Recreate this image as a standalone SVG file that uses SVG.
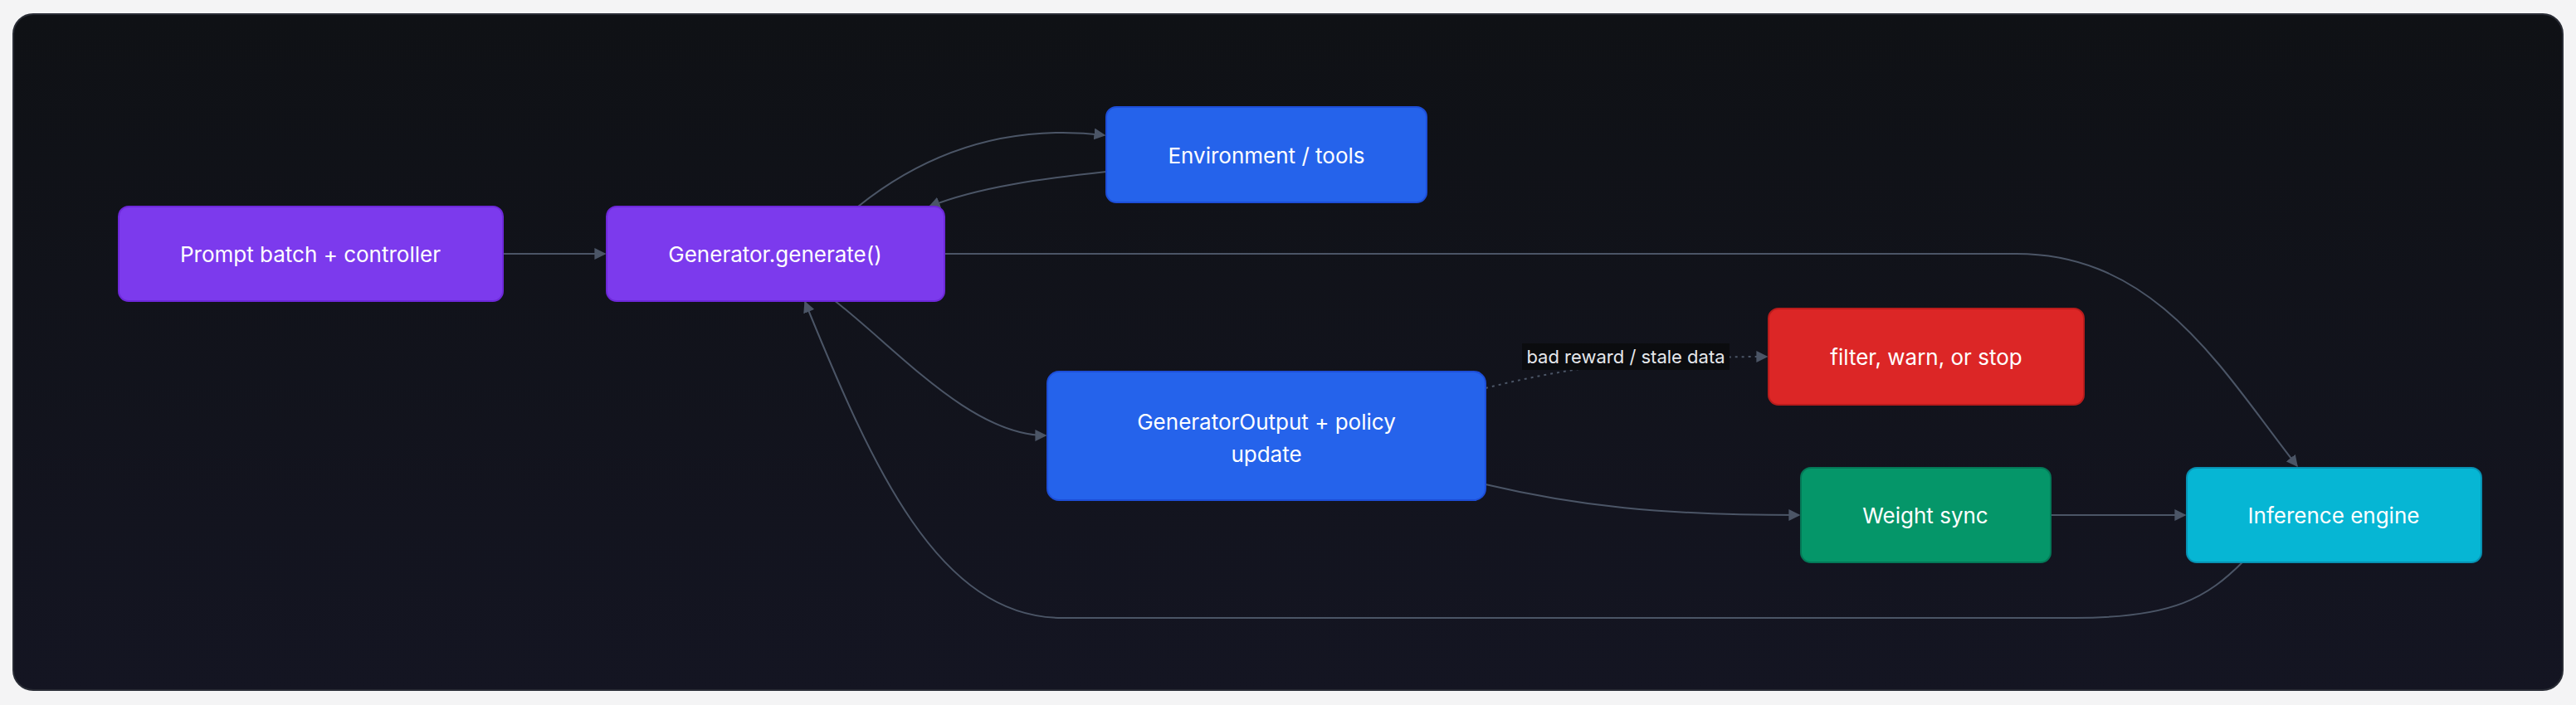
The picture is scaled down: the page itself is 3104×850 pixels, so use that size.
<svg xmlns="http://www.w3.org/2000/svg" width="3104" height="850" viewBox="0 0 3104 850">
<defs>
<linearGradient id="bg" x1="0" y1="0" x2="0" y2="1"><stop offset="0" stop-color="#0f1115"/><stop offset="1" stop-color="#141522"/></linearGradient>
<marker id="ah" viewBox="0 0 10 10" refX="9" refY="5" markerWidth="14" markerHeight="14" markerUnits="userSpaceOnUse" orient="auto"><path d="M0,0 L10,5 L0,10 z" fill="#4b5566"/></marker>
<style>
.n text{font-family:Inter,"Liberation Sans",sans-serif;font-size:26px;fill:#fff;text-anchor:middle;dominant-baseline:central}
.e path{fill:none;stroke:#4b5566;stroke-width:2}
.lbl{font-family:Inter,"Liberation Sans",sans-serif;font-size:22px;fill:#e5e7eb;text-anchor:middle;dominant-baseline:central}
</style>
</defs>
<rect x="0" y="0" width="3104" height="850" fill="#f4f4f5"/>
<rect x="16" y="17" width="3072" height="815" rx="24" fill="url(#bg)" stroke="#2a2d36" stroke-width="2"/>
<g class="e">
<path d="M606,306 L729,306" marker-end="url(#ah)"/>
<path d="M1034,249 C1120,180 1220,150 1331,163" marker-end="url(#ah)"/>
<path d="M1333,207 C1260,215 1180,225 1120,249" marker-end="url(#ah)"/>
<path d="M1138,306 L2430,306 C2600,306 2680,450 2768,562" marker-end="url(#ah)"/>
<path d="M1005,362 C1080,420 1170,525 1260,525" marker-end="url(#ah)"/>
<path d="M1790,468 C1900,440 2000,430 2129,430" stroke-dasharray="3,5" marker-end="url(#ah)"/>
<path d="M1790,584 C1900,610 2000,621 2168,621" marker-end="url(#ah)"/>
<path d="M2471,621 L2633,621" marker-end="url(#ah)"/>
<path d="M2703,677 C2660,720 2620,745 2500,745 L1280,745 C1130,745 1050,560 970,364" marker-end="url(#ah)"/>
</g>
<rect x="1834" y="414" width="250" height="32" fill="#0b0c0f"/>
<text class="lbl" x="1959" y="430">bad reward / stale data</text>
<g class="n" id="prompt"><rect x="143" y="249" width="463" height="114" rx="12" fill="#7c3aed" stroke="#6d28d9" stroke-width="2"/><text x="374" y="306">Prompt batch + controller</text></g>
<g class="n" id="gen"><rect x="731" y="249" width="407" height="114" rx="12" fill="#7c3aed" stroke="#6d28d9" stroke-width="2"/><text x="934" y="306">Generator.generate()</text></g>
<g class="n" id="env"><rect x="1333" y="129" width="386" height="115" rx="12" fill="#2563eb" stroke="#1d4ed8" stroke-width="2"/><text x="1526" y="187">Environment / tools</text></g>
<g class="n" id="out"><rect x="1262" y="448" width="528" height="155" rx="14" fill="#2563eb" stroke="#1d4ed8" stroke-width="2"/><text x="1526" y="508">GeneratorOutput + policy</text><text x="1526" y="547">update</text></g>
<g class="n" id="filter"><rect x="2131" y="372" width="380" height="116" rx="12" fill="#dc2626" stroke="#b91c1c" stroke-width="2"/><text x="2321" y="430">filter, warn, or stop</text></g>
<g class="n" id="sync"><rect x="2170" y="564" width="301" height="114" rx="12" fill="#059669" stroke="#047857" stroke-width="2"/><text x="2320" y="621">Weight sync</text></g>
<g class="n" id="inf"><rect x="2635" y="564" width="355" height="114" rx="12" fill="#06b6d4" stroke="#0891b2" stroke-width="2"/><text x="2812" y="621">Inference engine</text></g>
</svg>
